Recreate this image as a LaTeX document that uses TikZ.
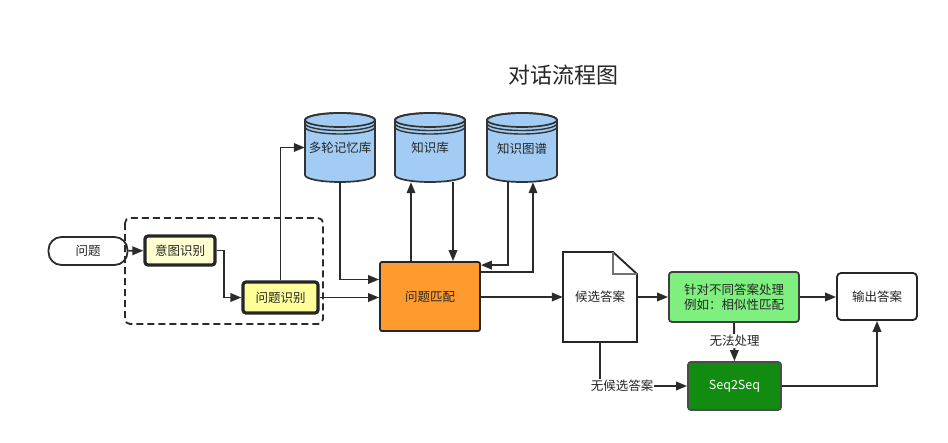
\documentclass[tikz,border=0pt]{standalone}
\usepackage{fontspec}
\newfontfamily\cjk{Noto Sans CJK SC}
\usetikzlibrary{arrows.meta,calc}
\definecolor{lineC}{HTML}{2B2B2B}
\definecolor{yelA}{HTML}{FFFFD2}
\definecolor{yelB}{HTML}{FFFF99}
\definecolor{cylC}{HTML}{A2CCF4}
\definecolor{orC}{HTML}{FF9A2E}
\definecolor{grA}{HTML}{7FEF7F}
\definecolor{grB}{HTML}{118C11}
\tikzset{
  x=1pt,y=-1pt,
  every node/.style={font=\cjk\fontsize{12.5}{15.5}\selectfont, text=black!85},
  arr/.style={line width=1.9pt, draw=lineC, -{Triangle[length=11pt,width=8.5pt]}},
  ybox/.style={draw=black!85, line width=3.2pt, rounded corners=3pt, inner sep=0pt},
  cylbody/.style={fill=cylC, draw=black!80, line width=1.7pt},
  lbl/.style={fill=white, inner sep=1pt},
}
\begin{document}
\begin{tikzpicture}
\fill[white] (0,0) rectangle (948,442);
\useasboundingbox (0,0) rectangle (948,442);

% title
\node (title) at (563,75) {\fontsize{22}{26}\selectfont 对话流程图};

% dashed group
\draw[dash pattern=on 7pt off 4pt, line width=1.8pt, draw=lineC, rounded corners=5pt] (125,218) rectangle (323,324);

% nodes
\node[draw=lineC, line width=1.8pt, rounded corners=13pt, minimum width=79, minimum height=28, inner sep=0pt] (q) at (88,251) {问题};
\node[ybox, fill=yelA, minimum width=70, minimum height=29] (intent) at (180,250.5) {意图识别};
\node[ybox, fill=yelB, minimum width=75, minimum height=31] (qid) at (280.5,297.5) {问题识别};
\node[draw=black!85, line width=1.8pt, fill=orC, rounded corners=2pt, minimum width=100, minimum height=69, inner sep=0pt] (pm) at (430,296.5) {问题匹配};

% cylinders
\foreach \cx/\nm/\tx in {340/mem/多轮记忆库, 430/kb/知识库, 522/kg/知识图谱}{
  \filldraw[cylbody] (\cx-35,120) -- (\cx-35,175) arc[start angle=180,end angle=0,x radius=35,y radius=7] -- (\cx+35,120) arc[start angle=0,end angle=-180,x radius=35,y radius=7] -- cycle;
  \draw[black!80, line width=1.7pt] (\cx,120) ellipse[x radius=35,y radius=7];
  \draw[black!80, line width=1.4pt] (\cx-35,123.5) arc[start angle=180,end angle=0,x radius=35,y radius=7];
  \draw[black!80, line width=1.4pt] (\cx-35,127) arc[start angle=180,end angle=0,x radius=35,y radius=7];
  \node[minimum width=70, minimum height=69, inner sep=0pt] (\nm) at (\cx,147.5) {\raisebox{-12pt}{\tx}};
}

% document shape
\filldraw[fill=white, draw=black!85, line width=1.8pt] (563,252) -- (613,252) -- (637,274) -- (637,342) -- (563,342) -- cycle;
\draw[black!55, line width=1.1pt] (613,252) -- (613,274) -- (637,274);
\node[minimum width=74, minimum height=90, inner sep=0pt] (doc) at (600,297) {候选答案};

\node[draw=black!75, line width=1.8pt, fill=grA, rounded corners=3pt, minimum width=130, minimum height=50, inner sep=0pt, align=center] (proc) at (734,297) {针对不同答案处理\\例如：相似性匹配};
\node[draw=black!85, line width=1.8pt, fill=white, rounded corners=4pt, minimum width=80, minimum height=47, inner sep=0pt] (out) at (877,296.5) {输出答案};
\node[draw=black!70, line width=1.8pt, fill=grB, rounded corners=3pt, minimum width=93, minimum height=48, inner sep=0pt, text=white] (s2s) at (734.5,386) {Seq2Seq};

% connectors
\draw[arr] (q) -- (intent);
\draw[arr] (intent.east) -- ++(7,0) |- (qid.west);
\draw[arr] (qid.north) |- (mem.west);
\draw[arr] (qid.east) -- (pm.west |- qid.east);
\draw[arr] (mem.south) |- ($(pm.west)+(0,-17)$);
\draw[arr] ($(pm.north)+(-19,0)$) -- ($(kb.south)+(-19,0)$);
\draw[arr] ($(kb.south)+(23,0)$) -- ($(pm.north)+(23,0)$);
\draw[arr] ($(kg.south)+(-14,0)$) |- ($(pm.north east)+(0,4)$);
\draw[arr] ($(pm.north east)+(0,11)$) -| ($(kg.south)+(11,0)$);
\draw[arr] (pm.east |- doc.west) -- (doc.west);
\draw[arr] (doc.east) -- (proc.west |- doc.east);
\draw[arr] (proc.east) -- (out.west |- proc.east);
\draw[arr] (proc.south) -- (s2s.north);
\node[lbl] (l1) at (734.5,341) {无法处理};
\draw[arr] (doc.south) |- (s2s.west);
\node[lbl] (l2) at (622,386) {无候选答案};
\draw[arr] (s2s.east) -| (out.south);
\end{tikzpicture}
\end{document}
